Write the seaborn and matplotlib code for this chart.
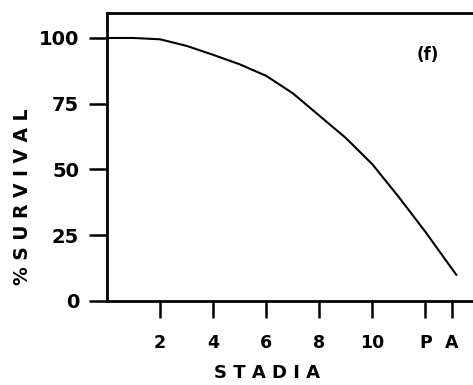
import matplotlib
matplotlib.use("Agg")
import matplotlib.pyplot as plt
import seaborn as sns
import pandas as pd

stage = [0, 1, 2, 3, 4, 5, 6, 7, 8, 9, 10, 11, 12, 13.17]
survival = [100, 100, 99.5, 97, 93.6, 90, 85.6, 79, 70.5, 62, 52, 39.5, 26.3, 9.9]
tick_pos = [2, 4, 6, 8, 10, 12, 13]
tick_labels = ["2", "4", "6", "8", "10", "P", "A"]
y_ticks = [0, 25, 50, 75, 100]

sns.set_theme(style="white")
plt.rcParams['font.family'] = ['DejaVu Sans']
plt.rcParams['text.color'] = 'black'
plt.rcParams['axes.labelcolor'] = 'black'
plt.rcParams['xtick.color'] = 'black'
plt.rcParams['ytick.color'] = 'black'

df = pd.DataFrame({"stage": stage, "survival": survival})

fig = plt.figure(figsize=(4.73, 3.85), dpi=100)
ax = fig.add_axes([107/473, 84/385, 390/473, 288/385])
sns.lineplot(data=df, x="stage", y="survival", ax=ax, color="black", lw=1.5)

ax.set_xlim(0, 14.7)
ax.set_ylim(0, 109.5)
ax.set_xticks(tick_pos)
ax.set_xticklabels(tick_labels, fontsize=12.5, fontweight="bold")
ax.set_yticks(y_ticks)
ax.set_yticklabels([str(v) for v in y_ticks], fontsize=14, fontweight="bold")
ax.tick_params(axis="x", direction="out", length=12, width=1.8, pad=12, bottom=True)
ax.tick_params(axis="y", direction="out", length=13, width=1.8, pad=7, left=True)

for s in ["left", "bottom", "top"]:
    ax.spines[s].set_visible(True)
    ax.spines[s].set_color("black")
    ax.spines[s].set_linewidth(2.0)
ax.spines["right"].set_visible(False)

ax.set_xlabel("S T A D I A", fontsize=13, fontweight="bold")
ax.set_ylabel("% S U R V I V A L", fontsize=13.5, fontweight="bold")
ax.xaxis.set_label_coords((267 - 107) / 390, (301 - 364) / 288)
ax.yaxis.set_label_coords((32 - 107) / 390, (301 - 197) / 288)
ax.text(12.1, 93.5, "(f)", fontsize=12, fontweight="bold", ha="center", va="center")

fig.savefig("out.png", dpi=100)
